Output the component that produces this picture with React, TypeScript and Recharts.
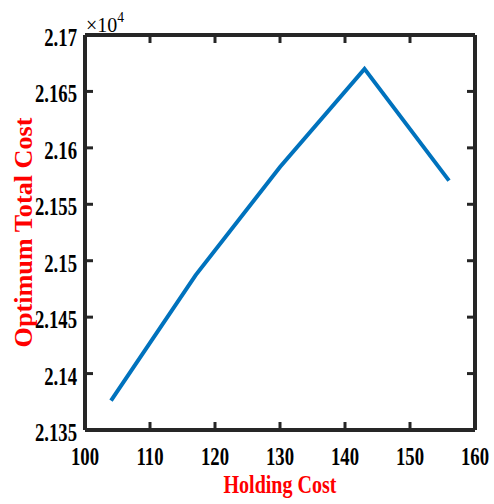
import React from 'react'
import { LineChart, Line, XAxis, YAxis, Label } from 'recharts'

// values
const holdingCost = [104, 117, 130, 143, 156]
const optimumTotalCost = [21376, 21487, 21583, 21670, 21571]

const xTicks = [100, 110, 120, 130, 140, 150, 160]
const yTicks = [21350, 21400, 21450, 21500, 21550, 21600, 21650, 21700]

const data = holdingCost.map((h, i) => ({ holding: h, total: optimumTotalCost[i] }))

const AXIS = '#262626'
const RED = '#ff0000'
const FONT = '"Liberation Serif", "Times New Roman", serif'
const TICK = 8

const fmtY = (v: number) => String(Number((v / 10000).toFixed(3)))

// MATLAB style: tick marks point into the box
const BottomTick = (props: any) => {
  const { x, y, payload } = props
  return (
    <g>
      <path d={`M${x},${y}L${x},${y - TICK}`} stroke={AXIS} strokeWidth={3} />
      <text
        transform={`translate(${x},${y + 35}) scale(0.72,1)`}
        textAnchor="middle"
        fontFamily={FONT}
        fontWeight="bold"
        fontSize={26}
        fill="#000"
      >
        {payload.value}
      </text>
    </g>
  )
}

const TopTick = (props: any) => {
  const { x, y } = props
  return <path d={`M${x},${y}L${x},${y + TICK}`} stroke={AXIS} strokeWidth={3} />
}

const LeftTick = (props: any) => {
  const { x, y, payload } = props
  return (
    <g>
      <path d={`M${x},${y}L${x + TICK},${y}`} stroke={AXIS} strokeWidth={3} />
      <text
        transform={`translate(${x - 8},${y + 11}) scale(0.72,1)`}
        textAnchor="end"
        fontFamily={FONT}
        fontWeight="bold"
        fontSize={26}
        fill="#000"
      >
        {fmtY(payload.value)}
      </text>
    </g>
  )
}

const RightTick = (props: any) => {
  const { x, y } = props
  return <path d={`M${x},${y}L${x - TICK},${y}`} stroke={AXIS} strokeWidth={3} />
}

export default function App() {
  return (
    <div style={{ position: 'absolute', left: 0, top: 0, width: 494, height: 504, background: '#fff' }}>
      <LineChart width={494} height={504} data={data} margin={{ top: 34, right: 0, left: 0, bottom: 0 }}>
        <XAxis
          xAxisId={0}
          dataKey="holding"
          type="number"
          domain={[100, 160]}
          ticks={xTicks}
          height={74}
          tickSize={0}
          tickMargin={0}
          tick={<BottomTick />}
          tickLine={false}
          axisLine={{ stroke: AXIS, strokeWidth: 4 }}
          interval={0}
        >
          <Label
            content={(p: any) => (
              <text
                x={p.viewBox.x + p.viewBox.width / 2}
                y={p.viewBox.y + 63}
                textAnchor="middle"
                fontFamily={FONT}
                fontWeight="bold"
                fontSize={25}
                fill={RED}
                textLength={113}
                lengthAdjust="spacingAndGlyphs"
              >
                Holding Cost
              </text>
            )}
          />
        </XAxis>
        <XAxis
          xAxisId="top"
          dataKey="holding"
          orientation="top"
          type="number"
          domain={[100, 160]}
          ticks={xTicks}
          height={1}
          tickSize={0}
          tickMargin={0}
          tick={<TopTick />}
          tickLine={false}
          axisLine={{ stroke: AXIS, strokeWidth: 4 }}
          interval={0}
        >
          <Label
            content={(p: any) => (
              <text
                x={p.viewBox.x + 1}
                y={p.viewBox.y - 2}
                fontFamily={FONT}
                fontSize={22}
                fill="#000"
                textLength={38}
                lengthAdjust="spacingAndGlyphs"
              >
                <tspan>×10</tspan>
                <tspan dy={-10} fontSize={15}>4</tspan>
              </text>
            )}
          />
        </XAxis>
        <YAxis
          yAxisId={0}
          dataKey="total"
          type="number"
          domain={[21350, 21700]}
          ticks={yTicks}
          width={85}
          tickSize={0}
          tickMargin={0}
          tick={<LeftTick />}
          tickLine={false}
          axisLine={{ stroke: AXIS, strokeWidth: 4 }}
          interval={0}
        >
          <Label
            content={(p: any) => {
              const cx = 32
              const cy = p.viewBox.y + p.viewBox.height / 2
              return (
                <text
                  x={cx}
                  y={cy}
                  transform={`rotate(-90 ${cx} ${cy})`}
                  textAnchor="middle"
                  fontFamily={FONT}
                  fontWeight="bold"
                  fontSize={25}
                  fill={RED}
                  textLength={230}
                  lengthAdjust="spacingAndGlyphs"
                >
                  Optimum Total Cost
                </text>
              )
            }}
          />
        </YAxis>
        <YAxis
          yAxisId="right"
          dataKey="total"
          orientation="right"
          type="number"
          domain={[21350, 21700]}
          ticks={yTicks}
          width={19}
          tickSize={0}
          tickMargin={0}
          tick={<RightTick />}
          tickLine={false}
          axisLine={{ stroke: AXIS, strokeWidth: 4 }}
          interval={0}
        />
        <Line
          xAxisId={0}
          yAxisId={0}
          type="linear"
          dataKey="total"
          stroke="#0072BD"
          strokeWidth={4}
          dot={false}
          isAnimationActive={false}
        />
      </LineChart>
    </div>
  )
}
